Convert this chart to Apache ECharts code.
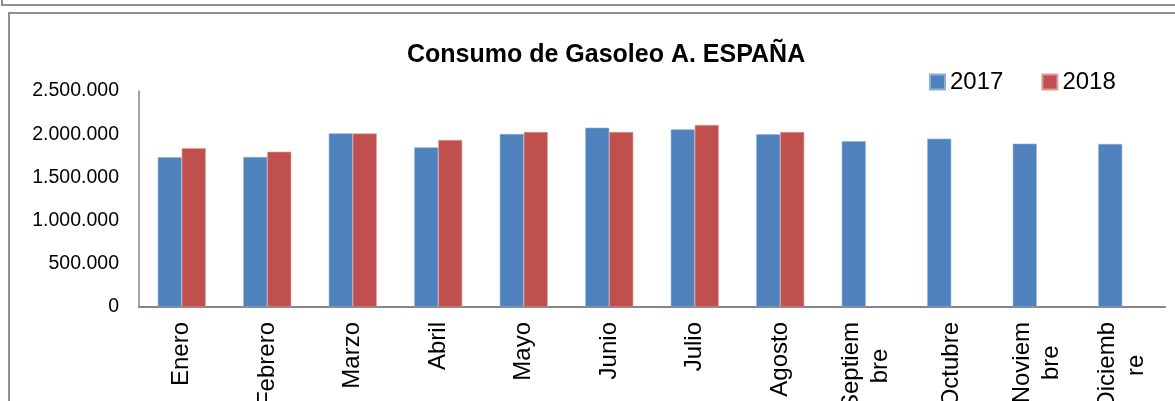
<!DOCTYPE html>
<html>
<head>
<meta charset="utf-8">
<script src="https://cdn.jsdelivr.net/npm/echarts@6/dist/echarts.min.js"></script>
<style>
html,body{margin:0;padding:0;background:#fff;}
#c{width:1175px;height:401px;}
</style>
</head>
<body>
<div id="c"></div>
<script>
var title = 'Consumo de Gasoleo A. ESPAÑA';
var categories = ['Enero','Febrero','Marzo','Abril','Mayo','Junio','Julio','Agosto','Septiembre','Octubre','Noviembre','Diciembre'];
var tickLabels = ['Enero','Febrero','Marzo','Abril','Mayo','Junio','Julio','Agosto','Septiem\nbre','Octubre','Noviem\nbre','Diciemb\nre'];
var seriesNames = ['2017','2018'];
var values2017 = [1733000,1736000,2010000,1848000,2002000,2075000,2056000,1999000,1918000,1948000,1890000,1887000];
var values2018 = [1837000,1797000,2008000,1933000,2025000,2025000,2106000,2025000,null,null,null,null];
var yTicks = {min:0, max:2500000, interval:500000};

var FONT = 'Liberation Sans';
function fmtNum(v){
  return String(v).replace(/\B(?=(\d{3})+(?!\d))/g,'.');
}
var chart = echarts.init(document.getElementById('c'));
chart.setOption({
  animation:false,
  backgroundColor:'#fff',
  textStyle:{fontFamily:FONT},
  graphic:[
    {type:'rect', shape:{x:2,y:-20,width:1200,height:25}, style:{fill:'none',stroke:'#8e8e8e',lineWidth:2}},
    {type:'rect', shape:{x:9,y:13,width:1200,height:420}, style:{fill:'none',stroke:'#8e8e8e',lineWidth:2}}
  ],
  title:{
    text:title, left:402, top:38,
    textStyle:{fontFamily:FONT,fontWeight:'bold',fontSize:25,color:'#000'}
  },
  legend:{
    data:seriesNames, left:924, top:65, itemWidth:15, itemHeight:15, itemGap:38,
    icon:'rect',
    textStyle:{fontFamily:FONT,fontSize:24,color:'#000',lineHeight:24}
  },
  grid:{left:139,right:10,top:91,bottom:94,outerBoundsMode:'none',containLabel:false},
  xAxis:{
    type:'category', data:categories,
    axisLine:{lineStyle:{color:'#868686',width:2}},
    axisTick:{show:false},
    axisLabel:{
      rotate:90, interval:0, margin:15,
      formatter:function(v,i){
        return tickLabels[i].split('\n').map(function(s){return '{a|'+s+'}';}).join('\n');
      },
      rich:{a:{align:'center',fontFamily:FONT,fontSize:24,color:'#000',lineHeight:29}}
    }
  },
  yAxis:{
    type:'value', min:yTicks.min, max:yTicks.max, interval:yTicks.interval,
    axisLine:{show:true,lineStyle:{color:'#868686',width:1.5}},
    axisTick:{show:false},
    splitLine:{show:false},
    axisLabel:{margin:20,fontFamily:FONT,fontSize:19.5,color:'#000',formatter:fmtNum}
  },
  series:[
    {name:seriesNames[0], type:'bar', data:values2017, barWidth:24, barGap:'0%',
     itemStyle:{color:'#4F81BD',borderColor:'#8fb0d8',borderWidth:0.6}},
    {name:seriesNames[1], type:'bar', data:values2018, barWidth:24, barGap:'0%',
     itemStyle:{color:'#C0504D',borderColor:'#dc9a98',borderWidth:0.6}}
  ]
});
</script>
</body>
</html>
